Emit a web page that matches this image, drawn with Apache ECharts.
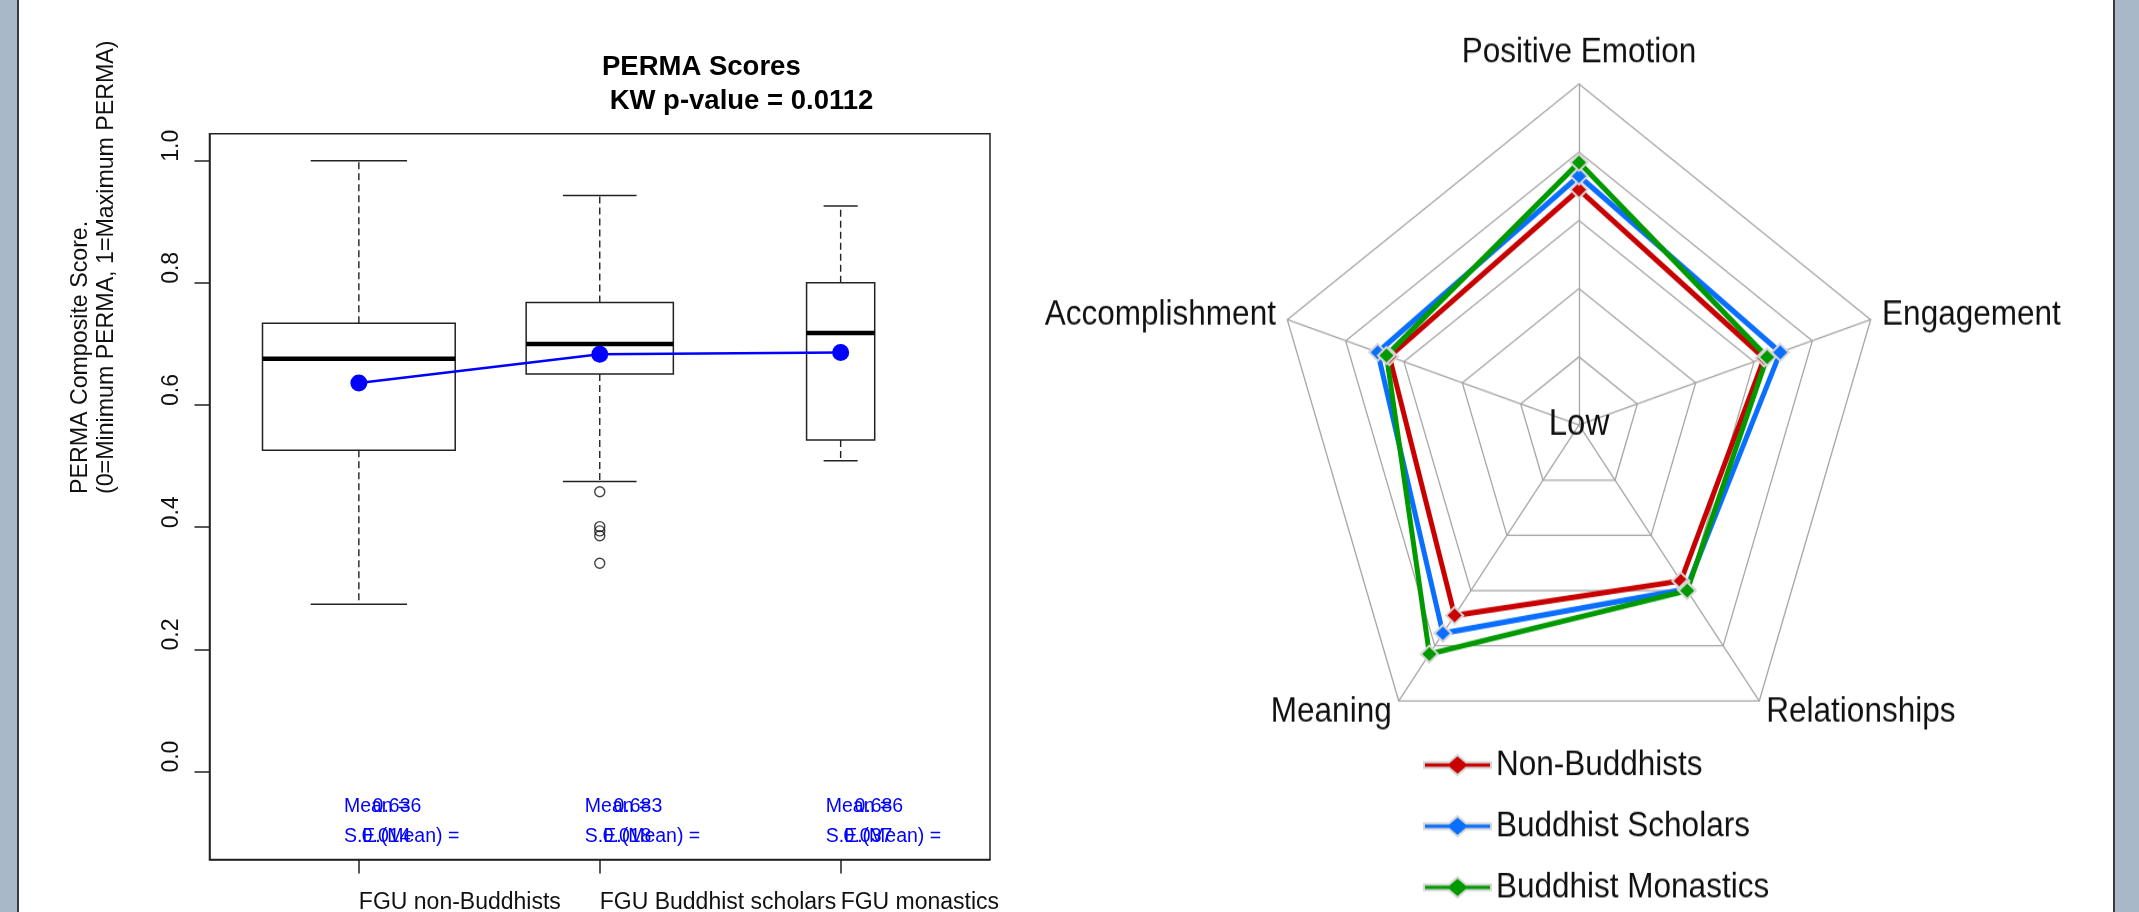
<!DOCTYPE html>
<html>
<head>
<meta charset="utf-8">
<script src="https://cdn.jsdelivr.net/npm/echarts@6/dist/echarts.min.js"></script>
<style>
  html, body { margin: 0; padding: 0; background: #fff; width: 2139px; height: 912px; overflow: hidden; }
  #edgeL { position: absolute; left: 0; top: 0; width: 17px; height: 912px; background: #a8b8c8; border-right: 2px solid #3a3a3a; }
  #edgeR { position: absolute; left: 2113px; top: 0; width: 26px; height: 912px; background: #a8b8c8; border-left: 2px solid #3a3a3a; box-sizing: border-box; }
  #box { position: absolute; left: 0; top: 0; width: 2139px; height: 912px; }
  #radar { position: absolute; left: 1000px; top: 0; width: 1110px; height: 900px; transform: scaleY(1.112); transform-origin: 0 0; }
</style>
</head>
<body>
<div id="box"></div>
<div id="radar"></div>
<div id="edgeL"></div>
<div id="edgeR"></div>
<script>
// ---- PERMA composite scores by group (box plot) ----
const groups = ['FGU non-Buddhists', 'FGU Buddhist scholars', 'FGU monastics'];
const whiskerLow = [0.274, 0.475, 0.509];
const quart1 = [0.526, 0.651, 0.543];
const medians = [0.676, 0.700, 0.718];
const quart3 = [0.734, 0.768, 0.800];
const whiskerHigh = [1.000, 0.943, 0.926];
const groupSizes = [48, 28, 6];
const means = [0.636, 0.683, 0.686];
const meanSE = [0.014, 0.018, 0.037];
const outlierGroup = [2, 2, 2, 2, 2];
const outlierValues = [0.458, 0.401, 0.394, 0.386, 0.341];
const yTicks = [0, 0.2, 0.4, 0.6, 0.8, 1.0];
const xTicks = [1, 2, 3];

// ---- PERMA profile by group (radar), listed clockwise from the top ----
const dims = ['Positive Emotion', 'Engagement', 'Relationships', 'Meaning', 'Accomplishment'];
const nonBuddhists = [6.9, 6.35, 5.65, 6.9, 6.5];
const scholars = [7.3, 6.9, 5.95, 7.55, 6.9];
const monastics = [7.7, 6.45, 6.0, 8.3, 6.6];
const profileNames = ['Non-Buddhists', 'Buddhist Scholars', 'Buddhist Monastics'];
const profileValues = [nonBuddhists, scholars, monastics];

const FONT = "'Liberation Sans', Arial, sans-serif";
const INK = '#111';

// varwidth boxes: width proportional to sqrt(n)
const maxN = Math.max.apply(null, groupSizes);
const boxData = groups.map((g, i) => [i + 1, whiskerLow[i], quart1[i], medians[i], quart3[i], whiskerHigh[i],
  0.4 * Math.sqrt(groupSizes[i] / maxN)]);

function renderBox(params, api) {
  const x = api.value(0);
  const cx = api.coord([x, 0])[0];
  const half = api.size([api.value(6), 0])[0];
  const y = v => api.coord([x, v])[1];
  const yMin = y(api.value(1)), yQ1 = y(api.value(2)), yMed = y(api.value(3)),
        yQ3 = y(api.value(4)), yMax = y(api.value(5));
  const dashed = { stroke: '#222', lineWidth: 1.4, lineDash: [7, 4] };
  const solid = { stroke: '#222', lineWidth: 1.5 };
  return {
    type: 'group',
    children: [
      { type: 'line', shape: { x1: cx, y1: yQ3, x2: cx, y2: yMax }, style: dashed },
      { type: 'line', shape: { x1: cx, y1: yQ1, x2: cx, y2: yMin }, style: dashed },
      { type: 'line', shape: { x1: cx - half / 2, y1: yMax, x2: cx + half / 2, y2: yMax }, style: solid },
      { type: 'line', shape: { x1: cx - half / 2, y1: yMin, x2: cx + half / 2, y2: yMin }, style: solid },
      { type: 'rect', shape: { x: cx - half, y: yQ3, width: 2 * half, height: yQ1 - yQ3 },
        style: { fill: '#fff', stroke: '#222', lineWidth: 1.5 } },
      { type: 'line', shape: { x1: cx - half, y1: yMed, x2: cx + half, y2: yMed },
        style: { stroke: '#000', lineWidth: 4.5 } }
    ]
  };
}

const statData = groups.map((g, i) => [i + 1, means[i], meanSE[i]]);
function renderStats(params, api) {
  const x = api.value(0);
  const ts = (txt, dx, v) => {
    const p = api.coord([x + dx, v]);
    return { type: 'text', x: p[0], y: p[1],
      style: { text: txt, fill: '#0000ff', font: '19.5px ' + FONT, align: 'left', verticalAlign: 'middle' } };
  };
  return {
    type: 'group',
    children: [
      ts('Mean = ', -0.062, -0.057),
      ts(api.value(1).toFixed(3), 0.057, -0.057),
      ts('S.E.(Mean) = ', -0.062, -0.106),
      ts(api.value(2).toFixed(3), 0.012, -0.106)
    ]
  };
}

const box = echarts.init(document.getElementById('box'));
box.setOption({
  animation: false,
  backgroundColor: 'transparent',
  title: {
    text: 'PERMA Scores\n KW p-value = 0.0112',
    left: 597, top: 45,
    textStyle: { fontSize: 27.5, fontWeight: 'bold', lineHeight: 34, color: '#000', fontFamily: FONT }
  },
  grid: { left: 209.5, top: 133.8, width: 780.5, height: 725.8, show: true, outerBoundsMode: 'none',
          borderColor: '#222', borderWidth: 1.5, backgroundColor: 'transparent' },
  xAxis: {
    type: 'value', min: 0.38, max: 3.62,
    splitLine: { show: false },
    axisLine: { show: true, onZero: false, lineStyle: { color: '#222', width: 1.5 } },
    axisTick: { show: true, customValues: xTicks, length: 14, lineStyle: { color: '#222', width: 1.5 } },
    axisLabel: { customValues: xTicks, formatter: v => groups[Math.round(v) - 1], align: 'left',
                 margin: 32, fontSize: 23, color: INK, fontFamily: FONT }
  },
  yAxis: {
    type: 'value', min: -0.144, max: 1.044,
    splitLine: { show: false },
    axisLine: { show: true, onZero: false, lineStyle: { color: '#222', width: 1.5 } },
    axisTick: { show: true, customValues: yTicks, length: 15, lineStyle: { color: '#222', width: 1.5 } },
    axisLabel: { customValues: yTicks, rotate: 90, formatter: v => v.toFixed(1), margin: 26,
                 fontSize: 23, color: INK, fontFamily: FONT, padding: [0, 0, 0, 30] }
  },
  graphic: [{
    type: 'text', x: 68, y: 494, rotation: Math.PI / 2,
    style: { text: 'PERMA Composite Score.\n(0=Minimum PERMA, 1=Maximum PERMA)',
             font: '23.2px ' + FONT, lineHeight: 26, fill: INK, align: 'left', verticalAlign: 'top' }
  }],
  series: [
    { type: 'custom', renderItem: renderBox, data: boxData, z: 2 },
    { type: 'scatter', data: outlierGroup.map((g, i) => [g, outlierValues[i]]), symbol: 'circle', symbolSize: 10,
      itemStyle: { color: 'rgba(0,0,0,0)', borderColor: '#111', borderWidth: 1.4 }, z: 3 },
    { type: 'line', data: means.map((m, i) => [i + 1, m]), symbol: 'circle', symbolSize: 17,
      lineStyle: { color: '#0000ff', width: 2.5 }, itemStyle: { color: '#0000ff' }, z: 5 },
    { type: 'custom', renderItem: renderStats, data: statData, z: 6 }
  ]
});

// ---- radar: indicators are laid out counterclockwise from the top ----
const order = [0, 4, 3, 2, 1];
const lineColors = ['#c80000', '#0a6eff', '#009a00'];
const legendIcon = 'path://M0,6.5 L25,6.5 L33.5,0 L42,6.5 L67,6.5 L67,11.5 L42,11.5 L33.5,18 L25,11.5 L0,11.5 Z';

const radar = echarts.init(document.getElementById('radar'));
radar.setOption({
  animation: false,
  backgroundColor: 'transparent',
  legend: {
    orient: 'vertical', left: 418, top: 667, itemWidth: 67, itemHeight: 18, itemGap: 23,
    selectedMode: false,
    textStyle: { fontSize: 31.5, color: INK, fontFamily: FONT, lineHeight: 32 },
    data: profileNames.map(n => ({ name: n, icon: legendIcon }))
  },
  radar: {
    center: [579, 382.2], radius: 306.7, startAngle: 90, splitNumber: 5, shape: 'polygon',
    indicator: order.map(i => ({ name: dims[i], min: 0, max: 10 })),
    axisName: { color: INK, fontSize: 31.5, fontFamily: FONT },
    nameGap: 12,
    splitLine: { lineStyle: { color: '#a6a6a6', width: 1.3 } },
    splitArea: { show: false },
    axisLine: { lineStyle: { color: '#a6a6a6', width: 1.3 } }
  },
  graphic: [{
    type: 'text', x: 579, y: 382, z: 100,
    style: { text: 'Low', font: '33px ' + FONT, fill: INK, align: 'center', verticalAlign: 'middle' }
  }],
  series: [{
    type: 'radar',
    symbol: 'diamond',
    symbolSize: [17, 15],
    data: profileNames.map((n, k) => ({
      name: n,
      value: order.map(i => profileValues[k][i]),
      lineStyle: { color: lineColors[k], width: 5 },
      itemStyle: { color: lineColors[k], borderColor: '#d6d6d6', borderWidth: 2 }
    }))
  }]
});
</script>
</body>
</html>
